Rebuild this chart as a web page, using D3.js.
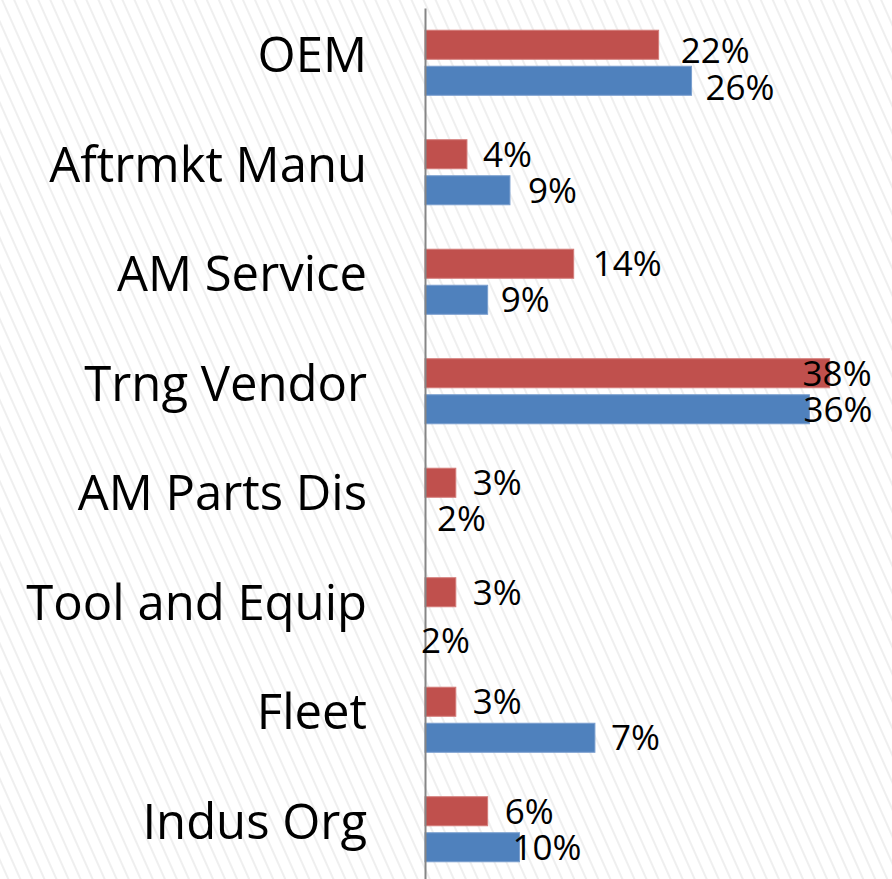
<!DOCTYPE html>
<html>
<head>
<meta charset="utf-8">
<script src="https://cdn.jsdelivr.net/npm/d3@7"></script>
<style>
  body { margin: 0; background: #fff; }
  svg { display: block; }
  .cat text { font-family: "Open Sans", sans-serif; font-size: 49px; fill: #000; }
  .valueLabel { font-family: "Open Sans", sans-serif; font-size: 35px; fill: #000; }
</style>
</head>
<body>
<div id="chart"></div>
<script>
// chart data
var categories = ["OEM", "Aftrmkt Manu", "AM Service", "Trng Vendor", "AM Parts Dis", "Tool and Equip", "Fleet", "Indus Org"];
var series = ["Series 2", "Series 1"];
var redValues = [22, 3.95, 14, 38.1, 2.9, 2.9, 2.9, 5.9];
var blueValues = [25.1, 8, 5.9, 36.2, 0, 0, 16, 8.9];
var redLabels = ["22%", "4%", "14%", "38%", "3%", "3%", "3%", "6%"];
var blueLabels = ["26%", "9%", "9%", "36%", "2%", "2%", "7%", "10%"];

// hand-placed label nudges [dx from bar end, dy]
var redNudge = [[22, 6], [16, 0], [19, 0], [-27, 0], [17, 0], [17, 0], [17, 0], [17, 0]];
var blueNudge = [[14, 7], [18, 0], [13, 0], [-6, 0], [12, 0], [-4, 12], [16, 0], [-7, 0]];

var svgWidth = 892;
var svgHeight = 879;

var svg = d3.select("#chart")
  .append("svg")
  .attr("width", svgWidth)
  .attr("height", svgHeight);

// diagonal hatch background
var defs = svg.append("defs");
var pat = defs.append("pattern")
  .attr("id", "hatch")
  .attr("patternUnits", "userSpaceOnUse")
  .attr("width", 11)
  .attr("height", 11)
  .attr("patternTransform", "rotate(-24)");
pat.append("line")
  .attr("x1", 2).attr("y1", 0)
  .attr("x2", 2).attr("y2", 11)
  .attr("stroke", "#ebebeb")
  .attr("stroke-width", 1.6);

svg.append("rect")
  .attr("width", svgWidth)
  .attr("height", svgHeight)
  .attr("fill", "#fff");
svg.append("rect")
  .attr("width", svgWidth)
  .attr("height", svgHeight)
  .attr("fill", "url(#hatch)");

// scales
var x = d3.scaleLinear().domain([0, 40]).range([425, 849.8]);

var y = d3.scaleBand()
  .domain(categories)
  .range([8, 884])
  .paddingInner(0.406)
  .paddingOuter(0.203);

var ySub = d3.scaleBand()
  .domain(series)
  .range([0, y.bandwidth()])
  .paddingInner(0.194);

var color = d3.scaleOrdinal().domain(series).range(["#C0504D", "#4F81BD"]);
var stroke = d3.scaleOrdinal().domain(series).range(["#d47c79", "#7a9fcf"]);

var rows = categories.map(function(c, i) {
  return [
    { cat: c, s: series[0], v: redValues[i], label: redLabels[i], nudge: redNudge[i] },
    { cat: c, s: series[1], v: blueValues[i], label: blueLabels[i], nudge: blueNudge[i] }
  ];
});
var flat = d3.merge(rows);

// bars
svg.append("g")
  .selectAll("rect")
  .data(flat.filter(function(d) { return d.v > 0; }))
  .enter()
  .append("rect")
  .attr("x", x(0))
  .attr("y", function(d) { return y(d.cat) + ySub(d.s); })
  .attr("width", function(d) { return x(d.v) - x(0); })
  .attr("height", ySub.bandwidth())
  .attr("fill", function(d) { return color(d.s); })
  .attr("stroke", function(d) { return stroke(d.s); })
  .attr("stroke-width", 1);

// category axis
var leftAxis = d3.axisLeft(y).tickSize(0).tickSizeOuter(0).tickPadding(58);
var axisG = svg.append("g")
  .attr("class", "cat")
  .attr("transform", "translate(" + x(0) + ",0)")
  .call(leftAxis);
axisG.select(".domain")
  .attr("stroke", "#868686")
  .attr("stroke-width", 2);
axisG.selectAll(".tick text")
  .attr("dy", "0.19em")
  .style("font-family", "'Open Sans', sans-serif")
  .style("font-size", "49px");

// value labels
svg.append("g")
  .selectAll("text")
  .data(flat)
  .enter()
  .append("text")
  .attr("class", "valueLabel")
  .attr("x", function(d) { return x(d.v) + d.nudge[0]; })
  .attr("y", function(d) { return y(d.cat) + ySub(d.s) + ySub.bandwidth() / 2 + 12.5 + d.nudge[1]; })
  .text(function(d) { return d.label; });
</script>
</body>
</html>
